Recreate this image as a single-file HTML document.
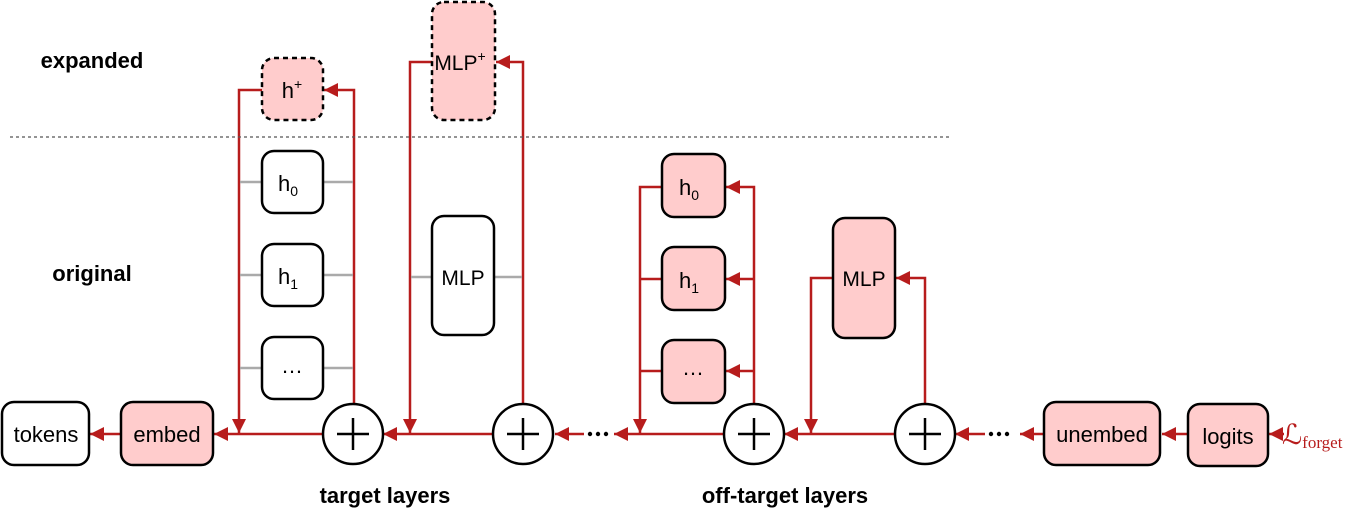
<!DOCTYPE html>
<html><head><meta charset="utf-8"><style>
html,body{margin:0;padding:0;background:#fff;}
svg{display:block;}
text{font-family:"Liberation Sans",sans-serif;}
</style></head><body>
<svg width="1370" height="510" viewBox="0 0 1370 510" xmlns="http://www.w3.org/2000/svg">
<defs>
<marker id="a" viewBox="0 0 10 10" refX="10" refY="5" markerWidth="14" markerHeight="14" markerUnits="userSpaceOnUse" orient="auto">
<path d="M0,0 L10,5 L0,10 z" fill="#b71c1c"/></marker>
</defs>
<g fill="none" stroke="#b71c1c" stroke-width="2.5">
<line x1="1044" y1="434" x2="1020" y2="434" marker-end="url(#a)"/>
<line x1="1284" y1="434" x2="1269" y2="434" marker-end="url(#a)"/>
<line x1="1188" y1="434" x2="1162" y2="434" marker-end="url(#a)"/>
<line x1="985" y1="434" x2="955" y2="434" marker-end="url(#a)"/>
<line x1="895" y1="434" x2="784" y2="434" marker-end="url(#a)"/>
<line x1="724" y1="434" x2="614" y2="434" marker-end="url(#a)"/>
<line x1="584" y1="434" x2="555" y2="434" marker-end="url(#a)"/>
<line x1="493" y1="434" x2="383" y2="434" marker-end="url(#a)"/>
<line x1="322" y1="434" x2="214" y2="434" marker-end="url(#a)"/>
<line x1="121" y1="434" x2="90" y2="434" marker-end="url(#a)"/>
<polyline points="262,90 239,90 239,433" marker-end="url(#a)"/>
<polyline points="354,404 354,90 324,90" marker-end="url(#a)"/>
<polyline points="432,62 410,62 410,433" marker-end="url(#a)"/>
<polyline points="523,404 523,62 496,62" marker-end="url(#a)"/>
<polyline points="662,187 640,187 640,433" marker-end="url(#a)"/>
<line x1="640" y1="279" x2="662" y2="279"/>
<line x1="640" y1="371" x2="662" y2="371"/>
<polyline points="754,404 754,187 726,187" marker-end="url(#a)"/>
<line x1="754" y1="279" x2="726" y2="279" marker-end="url(#a)"/>
<line x1="754" y1="371" x2="726" y2="371" marker-end="url(#a)"/>
<polyline points="833,278 811,278 811,433" marker-end="url(#a)"/>
<polyline points="925,404 925,278 896,278" marker-end="url(#a)"/>
</g>
<g stroke="#aaa" stroke-width="2.5">
<line x1="240" y1="182" x2="262" y2="182"/><line x1="323" y1="182" x2="353" y2="182"/>
<line x1="240" y1="275" x2="262" y2="275"/><line x1="323" y1="275" x2="353" y2="275"/>
<line x1="240" y1="368" x2="262" y2="368"/><line x1="323" y1="368" x2="353" y2="368"/>
<line x1="411" y1="277" x2="432" y2="277"/><line x1="494" y1="277" x2="522" y2="277"/>
</g>
<line x1="10" y1="137" x2="950" y2="137" stroke="#555" stroke-width="1.2" stroke-dasharray="3,3"/>
<g fill="#000"><circle cx="590" cy="434" r="2.2"/><circle cx="598" cy="434" r="2.2"/><circle cx="606" cy="434" r="2.2"/>
<circle cx="991" cy="434" r="2.2"/><circle cx="999" cy="434" r="2.2"/><circle cx="1007" cy="434" r="2.2"/></g>
<g stroke="#000" stroke-width="2.5">
<rect x="2" y="402" width="87" height="63" rx="12" fill="#fff"/>
<rect x="121" y="402" width="92" height="63" rx="12" fill="#ffcccc"/>
<rect x="262" y="58" width="61" height="62" rx="12" fill="#ffcccc" stroke-dasharray="5,4"/>
<rect x="262" y="151" width="61" height="62" rx="12" fill="#fff"/>
<rect x="262" y="244" width="61" height="62" rx="12" fill="#fff"/>
<rect x="262" y="337" width="61" height="62" rx="12" fill="#fff"/>
<rect x="432" y="2" width="63" height="118" rx="12" fill="#ffcccc" stroke-dasharray="5,4"/>
<rect x="432" y="216" width="62" height="119" rx="12" fill="#fff"/>
<rect x="662" y="154" width="63" height="63" rx="12" fill="#ffcccc"/>
<rect x="662" y="247" width="63" height="63" rx="12" fill="#ffcccc"/>
<rect x="662" y="340" width="63" height="63" rx="12" fill="#ffcccc"/>
<rect x="833" y="218" width="62" height="120" rx="12" fill="#ffcccc"/>
<rect x="1044" y="402" width="116" height="63" rx="12" fill="#ffcccc"/>
<rect x="1188" y="404" width="80" height="62" rx="12" fill="#ffcccc"/>
<circle cx="353" cy="434" r="30" fill="#fff"/>
<circle cx="523" cy="434" r="30" fill="#fff"/>
<circle cx="754" cy="434" r="30" fill="#fff"/>
<circle cx="925" cy="434" r="30" fill="#fff"/>
</g>
<g stroke="#000" stroke-width="2.5">
<line x1="337" y1="434" x2="369" y2="434"/><line x1="353" y1="418" x2="353" y2="450"/>
<line x1="507" y1="434" x2="539" y2="434"/><line x1="523" y1="418" x2="523" y2="450"/>
<line x1="738" y1="434" x2="770" y2="434"/><line x1="754" y1="418" x2="754" y2="450"/>
<line x1="909" y1="434" x2="941" y2="434"/><line x1="925" y1="418" x2="925" y2="450"/>
</g>
<g font-size="22" text-anchor="middle" fill="#000">
<text x="46" y="442">tokens</text>
<text x="167" y="442">embed</text>
<text x="292" y="98">h<tspan font-size="14" dy="-9">+</tspan></text>
<text x="288" y="191">h<tspan font-size="14" dy="5">0</tspan></text>
<text x="288" y="284">h<tspan font-size="14" dy="5">1</tspan></text>
<text x="292" y="373">…</text>
<text x="460" y="70" font-size="21">MLP<tspan font-size="14" dy="-9">+</tspan></text>
<text x="463" y="285" font-size="21">MLP</text>
<text x="689" y="195">h<tspan font-size="14" dy="5">0</tspan></text>
<text x="689" y="288">h<tspan font-size="14" dy="5">1</tspan></text>
<text x="693" y="375">…</text>
<text x="864" y="286" font-size="21">MLP</text>
<text x="1102" y="442">unembed</text>
<text x="1228" y="444">logits</text>
</g>
<g font-size="22" font-weight="bold" text-anchor="middle" fill="#000">
<text x="92" y="68">expanded</text>
<text x="92" y="281">original</text>
<text x="385" y="503">target layers</text>
<text x="785" y="503">off-target layers</text>
</g>
<text x="1282" y="444" fill="#b71c1c" font-family="DejaVu Serif,serif" font-size="28" style="font-family:'DejaVu Serif','Liberation Serif',serif">ℒ<tspan font-size="17" dy="4" style="font-family:'Liberation Serif',serif">forget</tspan></text>
</svg>
</body></html>
